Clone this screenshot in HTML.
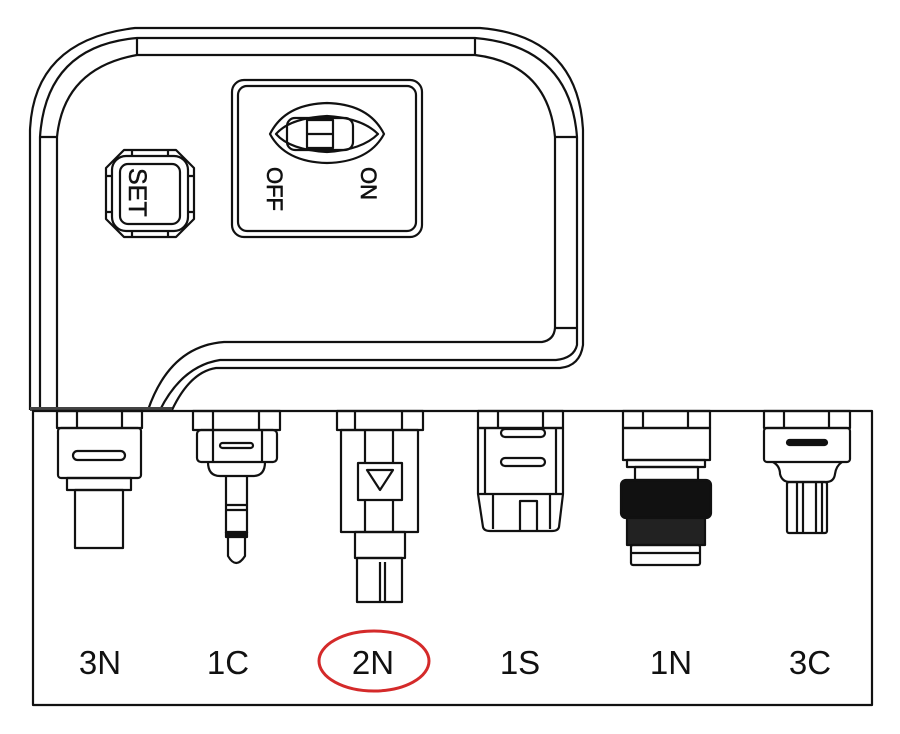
<!DOCTYPE html>
<html><head><meta charset="utf-8"><style>
html,body{margin:0;padding:0;background:#fff;}
svg{display:block}
text{font-family:"Liberation Sans",sans-serif;fill:#111}
</style></head><body>
<svg width="900" height="734" viewBox="0 0 900 734" xmlns="http://www.w3.org/2000/svg" fill="none" stroke="#111" stroke-width="2.2" stroke-linejoin="round">
<!-- device outer -->
<path d="M30 410 L30 130 Q34 40 135 28 L480 28 Q578 36 583 130 L583 345 Q580 366 560 368 L216 368 Q190 372 172 410"/>
<path d="M40 410 L40 137 Q46 46 137 38 L475 38 Q570 46 577 137 L577 345 Q574 358 556 360 L220 360 Q182 366 160 410"/>
<path d="M57 410 L57 137 Q64 68 137 55 L475 55 Q548 64 555 137 L555 328 Q554 340 542 342 L224 342 Q170 346 148 410"/>
<path d="M40 137 H57 M137 38 V55 M475 38 V55 M555 137 H577 M555 328 H577"/>
<path d="M30 409 H172" stroke-width="4" stroke="#444"/>
<!-- switch panel -->
<rect x="232" y="80" width="190" height="157" rx="12"/>
<rect x="238" y="86" width="178" height="145" rx="9"/>
<path d="M270 134 Q285 104 327 103 Q369 104 384 134 Q369 162 327 163 Q285 162 270 134Z"/>
<path d="M276 134 Q290 118 327 116 Q362 118 378 134 Q362 150 327 152 Q290 150 276 134Z"/>
<rect x="287" y="118" width="66" height="32" rx="8"/>
<rect x="307" y="120" width="26" height="28"/>
<path d="M307 134 H333"/>
<text transform="translate(267,167) rotate(90)" font-size="22" stroke="#111" stroke-width="0.6">OFF</text>
<text transform="translate(361,167) rotate(90)" font-size="22" stroke="#111" stroke-width="0.6">ON</text>
<!-- SET button -->
<path d="M124 150 H176 L194 168 V219 L176 237 H124 L106 219 V168 Z"/>
<rect x="112" y="156" width="76" height="75" rx="14"/>
<rect x="120" y="164" width="60" height="60" rx="8"/>
<path d="M132 150 V156 M168 150 V156 M132 231 V237 M168 231 V237 M106 176 H112 M106 212 H112 M188 176 H194 M188 212 H194"/>
<text transform="translate(129,168) rotate(90)" font-size="25" stroke="#111" stroke-width="0.5">SET</text>
<!-- box -->
<path d="M33 411 H872 V705 H33 Z"/>
<!-- 3N -->
<rect x="57" y="411" width="85" height="17"/><path d="M77 411 V428 M122 411 V428"/>
<rect x="58" y="428" width="83" height="50" rx="3"/>
<rect x="73" y="451" width="52" height="9" rx="4.5"/>
<rect x="67" y="478" width="64" height="12"/>
<rect x="75" y="490" width="48" height="58"/>
<!-- 1C -->
<rect x="193" y="411" width="87" height="19"/><path d="M213 411 V430 M259 411 V430"/>
<rect x="197" y="430" width="80" height="32" rx="4"/><path d="M213 430 V462 M262 430 V462"/>
<rect x="220" y="443" width="33" height="5" rx="2.5"/>
<path d="M208 462 Q208 476 220 476 H253 Q265 476 265 462"/>
<path d="M226 476 V533 M247 476 V533 M226 505 H247 M226 510 H247"/>
<rect x="226" y="532" width="21" height="5" fill="#111"/>
<path d="M228 537 V556 Q236 570 245 556 V537"/>
<!-- 2N -->
<rect x="337" y="411" width="86" height="19"/><path d="M355 411 V430 M402 411 V430"/>
<rect x="341" y="430" width="77" height="102"/><path d="M365 430 V532 M393 430 V532"/>
<rect x="358" y="463" width="44" height="37" fill="#fff"/>
<path d="M367 470 H393 L380 490 Z"/>
<rect x="355" y="532" width="50" height="26"/>
<rect x="357" y="558" width="45" height="44"/>
<path d="M380 562 V602 M385 562 V602"/>
<!-- 1S -->
<rect x="478" y="411" width="85" height="17"/><path d="M498 411 V428 M543 411 V428"/>
<rect x="478" y="428" width="85" height="66"/><path d="M485 428 V494 M556 428 V494"/>
<rect x="501" y="429" width="44" height="8" rx="4"/>
<rect x="501" y="458" width="44" height="8" rx="4"/>
<path d="M478 494 L483 527 Q484 531 490 531 H552 Q558 531 559 527 L563 494"/>
<path d="M493 494 V529 M550 494 V529"/>
<path d="M520 531 V501 H537 V531"/>
<!-- 1N -->
<rect x="623" y="411" width="87" height="17"/><path d="M643 411 V428 M688 411 V428"/>
<rect x="623" y="428" width="87" height="32"/>
<rect x="627" y="460" width="78" height="7"/>
<rect x="635" y="467" width="63" height="13"/>
<rect x="621" y="480" width="90" height="38" rx="5" fill="#111"/>
<rect x="627" y="518" width="78" height="27" fill="#222"/>
<rect x="631" y="545" width="69" height="20" rx="2"/><path d="M631 553 H700"/>
<!-- 3C -->
<rect x="764" y="411" width="86" height="17"/><path d="M784 411 V428 M829 411 V428"/>
<rect x="764" y="428" width="86" height="34" rx="3"/>
<rect x="787" y="440" width="40" height="5" rx="2.5" fill="#111"/>
<path d="M773 462 Q780 466 780 474 Q782 482 790 482 H826 Q834 482 835 474 Q836 466 842 462"/>
<rect x="787" y="482" width="40" height="51" rx="2"/>
<path d="M797 482 V533 M803 482 V533 M816 482 V533 M822 482 V533"/>
<!-- labels -->
<g font-size="33" stroke="none" text-anchor="middle">
<text x="100" y="674">3N</text>
<text x="228" y="674">1C</text>
<text x="373" y="674">2N</text>
<text x="520" y="674">1S</text>
<text x="671" y="674">1N</text>
<text x="810" y="674">3C</text>
</g>
<ellipse cx="374" cy="661" rx="55" ry="30" stroke="#d42a2a" stroke-width="3"/>
</svg>
</body></html>
